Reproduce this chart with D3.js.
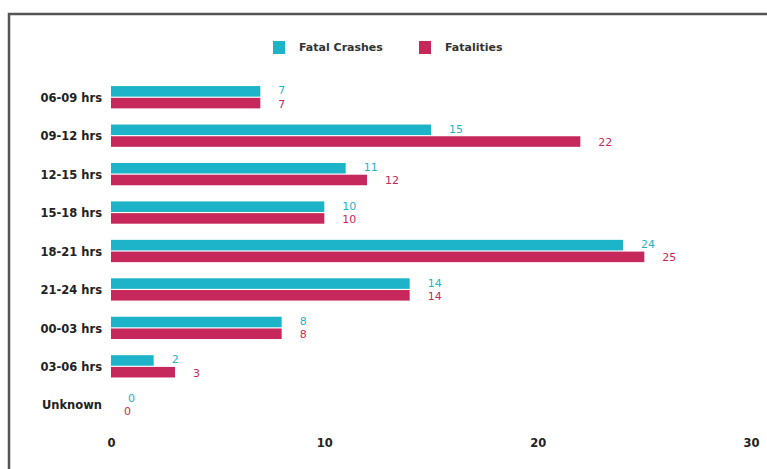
<!DOCTYPE html>
<html><head><meta charset="utf-8">
<script src="https://cdn.jsdelivr.net/npm/d3@7"></script>
<style>body{margin:0;background:#fff;}svg{display:block;}</style>
</head><body>
<script>
const categories = ["06-09 hrs","09-12 hrs","12-15 hrs","15-18 hrs","18-21 hrs","21-24 hrs","00-03 hrs","03-06 hrs","Unknown"];
const fatalCrashes = [7,15,11,10,24,14,8,2,0];
const fatalities = [7,22,12,10,25,14,8,3,0];
const seriesNames = ["Fatal Crashes","Fatalities"];
const xTicks = [0,10,20,30];
const colors = ["#1db4c9","#c7285c"];

const W = 767, H = 469;
const FONT = "DejaVu Sans, Verdana, sans-serif";
const svg = d3.select("body").append("svg").attr("width", W).attr("height", H);

// frame
svg.append("rect").attr("x",9).attr("y",14).attr("width",800).attr("height",500)
  .attr("fill","none").attr("stroke","#555").attr("stroke-width",2.5);

const x = d3.scaleLinear().domain([0,30]).range([111,751]);
const y = d3.scaleBand().domain(categories).range([78,424]).paddingInner(0.42).paddingOuter(0.21);
const sub = d3.scaleBand().domain(seriesNames).range([0,y.bandwidth()]).paddingInner(0.1);

const series = [fatalCrashes, fatalities];
series.forEach((vals,si)=>{
  const g = svg.append("g");
  g.selectAll("rect").data(vals).join("rect")
    .attr("x", x(0))
    .attr("y",(d,i)=>y(categories[i])+sub(seriesNames[si]))
    .attr("width", d=>x(d)-x(0))
    .attr("height", sub.bandwidth())
    .attr("fill", colors[si]);
  g.selectAll("text").data(vals).join("text")
    .attr("x", d=>x(d) + (d===0 ? (si===0?17:13) : 18))
    .attr("y",(d,i)=>y(categories[i])+sub(seriesNames[si])+sub.bandwidth()/2 + (si===0?0:1.5))
    .attr("dominant-baseline","middle")
    .attr("font-family",FONT)
    .attr("font-size",11)
    .attr("fill", colors[si])
    .text(d=>d);
});

// y axis labels
const yAxis = d3.axisLeft(y).tickSize(0).tickPadding(9);
const ya = svg.append("g").attr("transform",`translate(${x(0)},1)`).call(yAxis);
ya.select(".domain").remove();
ya.selectAll("text").attr("font-family",FONT)
  .attr("font-size",11.5).attr("font-weight","bold").attr("fill","#222");

// x axis
const xAxis = d3.axisBottom(x).tickValues(xTicks).tickSize(0).tickPadding(0);
const xa = svg.append("g").attr("transform",`translate(0,439)`).call(xAxis);
xa.select(".domain").remove();
xa.selectAll("text").attr("font-family",FONT)
  .attr("font-size",11.5).attr("font-weight","bold").attr("fill","#222");

// legend
const legendX = [273, 419];
seriesNames.forEach((n,i)=>{
  svg.append("rect").attr("x",legendX[i]).attr("y",41).attr("width",12).attr("height",13).attr("fill",colors[i]);
  svg.append("text").attr("x",legendX[i]+26).attr("y",48).attr("dominant-baseline","middle")
    .attr("font-family",FONT).attr("font-size",11).attr("font-weight","bold")
    .attr("fill","#333").text(n);
});
</script>
</body></html>
